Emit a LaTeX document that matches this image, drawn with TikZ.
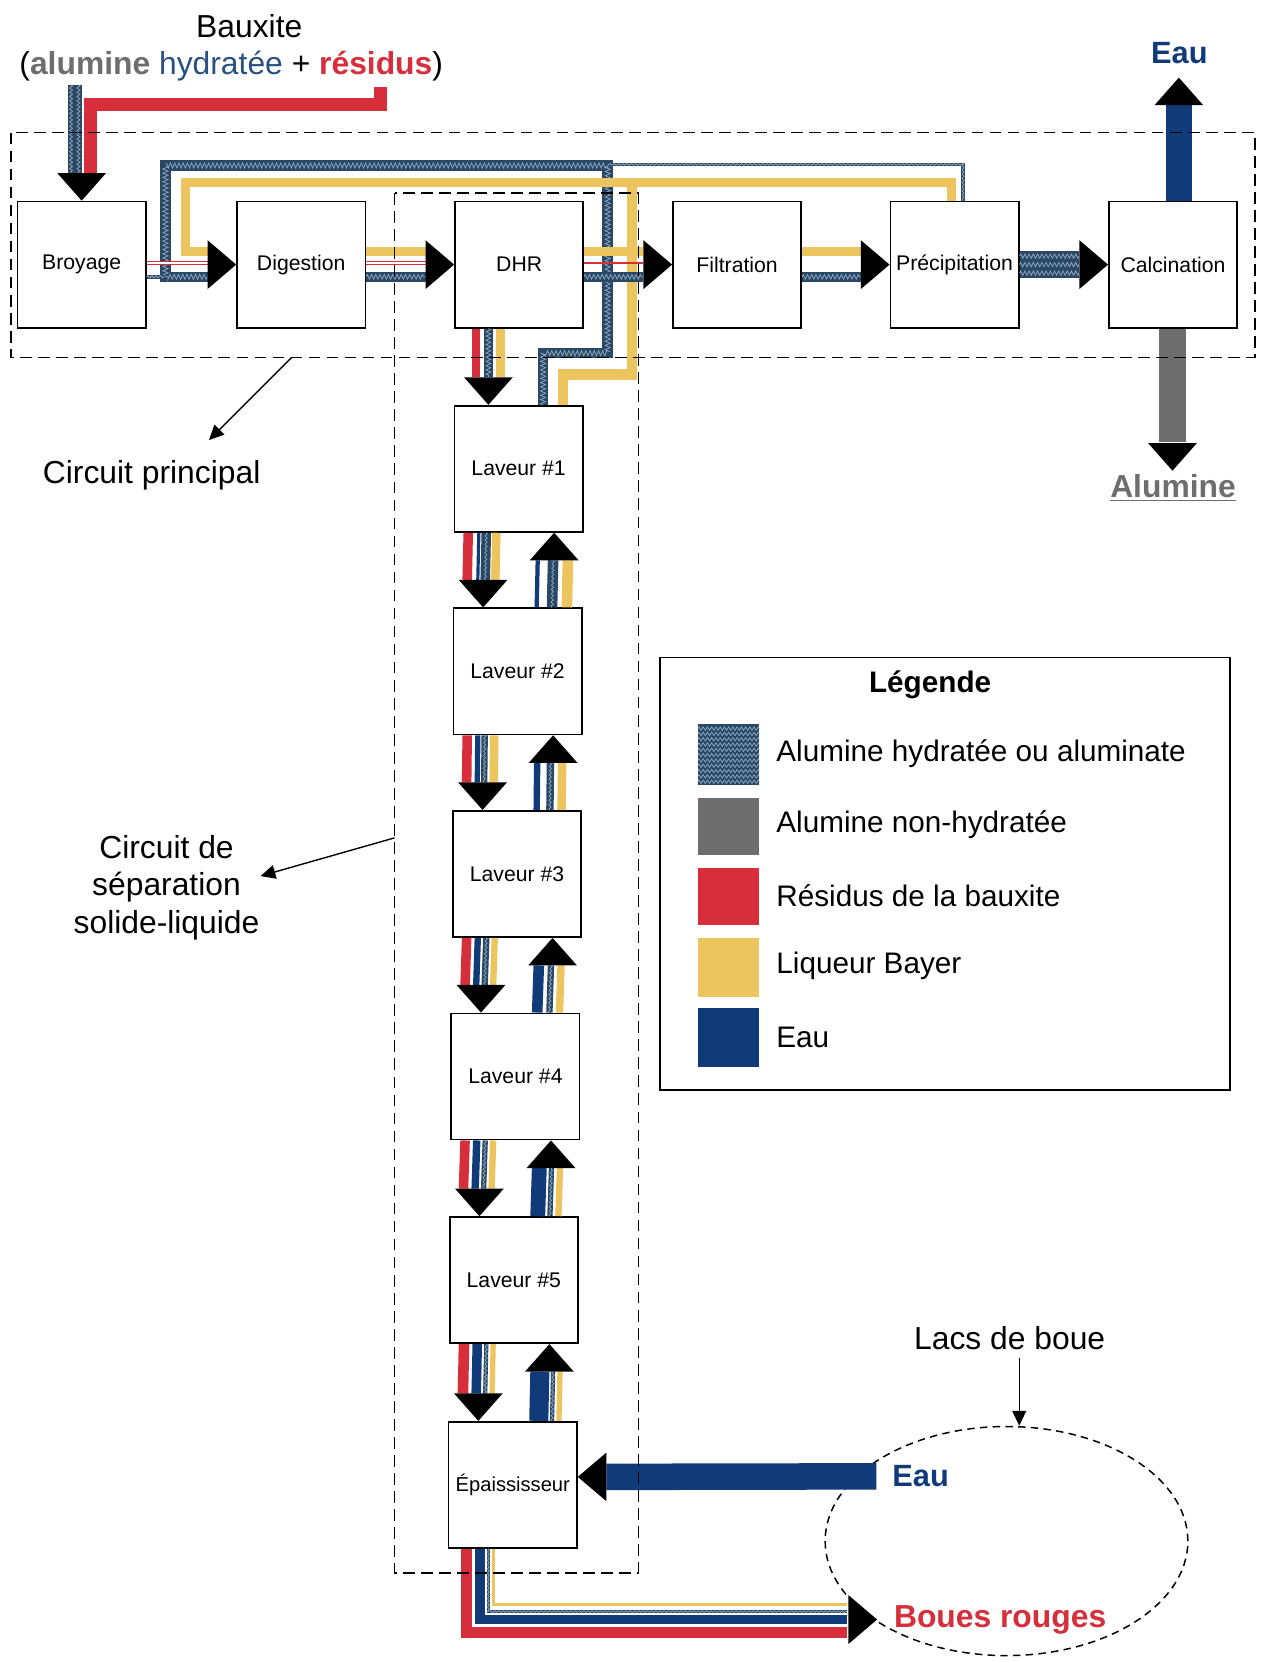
\documentclass[tikz,border=0pt]{standalone}
\usepackage{fontspec}
\setmainfont{Liberation Sans}
\usetikzlibrary{calc,positioning,shapes.geometric,decorations.pathmorphing,arrows.meta}

\definecolor{resid}{RGB}{214,46,58}
\definecolor{liqueur}{RGB}{236,197,94}
\definecolor{eau}{RGB}{16,58,120}
\definecolor{anhydre}{RGB}{110,110,110}
\definecolor{hydrate}{RGB}{40,80,130}
\definecolor{alumbase}{RGB}{42,72,102}
\definecolor{alumlight}{RGB}{140,168,192}

\newcommand\alumflow[3]{\draw[alum=#1] #3; \draw[alumtex=#2] #3;}
\newcommand\tipdown[1]{\fill #1 -- ++(-23,-26) -- ++(46,0) -- cycle;}
\newcommand\tipup[1]{\fill #1 -- ++(-23,26) -- ++(46,0) -- cycle;}
\newcommand\tipright[1]{\fill #1 -- ++(-27,-23) -- ++(0,46) -- cycle;}
\newcommand\tipleft[1]{\fill #1 -- ++(27,-23) -- ++(0,46) -- cycle;}

\tikzset{
  stage/.style={draw, fill=white, line width=0.8pt, minimum width=60.5pt, minimum height=59.5pt, inner sep=0pt, font=\fontsize{10pt}{12pt}\selectfont},
  note/.style={font=\fontsize{15pt}{17.5pt}\selectfont, align=center},
  zone/.style={line width=0.85pt, dash pattern=on 5.5pt off 3pt},
  pointer/.style={line width=0.65pt, -{Triangle[length=7pt,width=6.5pt]}},
  ylw/.style={draw=liqueur, line width=#1},
  rd/.style={draw=resid, line width=#1},
  bl/.style={draw=eau, line width=#1},
  alum/.style={draw=alumbase, line width=#1},
  alumtex/.style={draw=alumlight, line width=0.35pt, decorate, decoration={zigzag, segment length=2pt, amplitude=#1}},
  redpair/.style={draw=resid, double=white, double distance=0.9pt, line width=0.7pt},
}

\begin{document}
\begin{tikzpicture}[x=0.5pt,y=-0.5pt]
\useasboundingbox (0,0) rectangle (1192,1568);

% titre
\node[note] (bauxite) at (235,25) {Bauxite};
\node[note] (compo) at (218,62) {(\textbf{\color{anhydre}alumine} {\color{hydrate}hydratée} + \textbf{\color{resid}résidus})};

% circuit principal
\node[stage] (broyage) at (77,249.5) {Broyage};
\node[stage] (digestion) at (284,249.5) {Digestion};
\node[stage] (dhr) at (489.5,249.5) {DHR};
\node[stage] (filtration) at (695,249.5) {Filtration};
\node[stage] (precip) at (900,249.5) {Précipitation};
\node[stage] (calcin) at (1106,249.5) {Calcination};

% laveurs
\node[stage] (lav1) at (489,442) {Laveur \#1};
\node[stage] (lav2) at (488,633) {Laveur \#2};
\node[stage] (lav3) at (487.5,824) {Laveur \#3};
\node[stage] (lav4) at (486,1015) {Laveur \#4};
\node[stage] (lav5) at (484.5,1207) {Laveur \#5};
\node[stage, font=\fontsize{9.5pt}{11pt}\selectfont] (epaiss) at (483.5,1400) {Épaississeur};

% entree bauxite
\coordinate (entreeA) at (70.5,80);
\coordinate (entreeR) at (358.5,82);
\draw[rd=6pt] (entreeR) -- (358.5,98.5) -- (85,98.5) -- ($(broyage.north)+(8,-26)$);
\draw[alum=6.5pt] (entreeA) -- ($(broyage.north)+(-6.5,-26)$);
\foreach \dx in {-3.5,3.5}
  \draw[alumtex=0.7pt] ($(entreeA)+(\dx,0)$) -- ($(broyage.north)+(-6.5,-26)+(\dx,0)$);
\tipdown{(broyage.north)}

% retours vers la digestion
\alumflow{5pt}{1.2pt}{($(lav1.north)+(23,0)$) -- (512,333) -- (573,333) -- (573,156) -- (156,156) -- (156,261) -- ($(digestion.west)+(-27,11.5)$)}
\alumflow{1.5pt}{0.4pt}{($(precip.north)+(8,0)$) -- (908,155) -- (573,155)}
\draw[ylw=4.5pt] ($(precip.north)+(-3,0)$) -- (897,172) -- (175,172) -- (175,237) -- ($(digestion.west)+(-27,-12.5)$);
\draw[ylw=5pt] ($(lav1.north)+(42,0)$) -- (531,353) -- (596,353) -- (596,172);

% broyage -> digestion
\draw[redpair] ($(broyage.east)+(0,-1.5)$) -- ($(digestion.west)+(-27,-1.5)$);
\alumflow{2pt}{0.5pt}{($(broyage.east)+(0,11.5)$) -- ($(digestion.west)+(-67.5,11.5)$)}
\tipright{(digestion.west)}

% digestion -> DHR
\draw[ylw=4.5pt] ($(digestion.east)+(0,-12.5)$) -- ($(dhr.west)+(-27,-12.5)$);
\draw[redpair] ($(digestion.east)+(0,-1.5)$) -- ($(dhr.west)+(-27,-1.5)$);
\alumflow{4.5pt}{1.1pt}{($(digestion.east)+(0,11.5)$) -- ($(dhr.west)+(-27,11.5)$)}
\tipright{(dhr.west)}

% DHR -> filtration
\draw[ylw=4.5pt] ($(dhr.east)+(0,-12.5)$) -- ($(filtration.west)+(-27,-12.5)$);
\draw[rd=0.8pt] ($(dhr.east)+(0,-1.5)$) -- ($(filtration.west)+(-27,-1.5)$);
\alumflow{4.5pt}{1.1pt}{($(dhr.east)+(0,11.5)$) -- ($(filtration.west)+(-27,11.5)$)}
\tipright{(filtration.west)}

% filtration -> precipitation
\draw[ylw=4.5pt] ($(filtration.east)+(0,-12.5)$) -- ($(precip.west)+(-27,-12.5)$);
\alumflow{4.5pt}{1.1pt}{($(filtration.east)+(0,11.5)$) -- ($(precip.west)+(-27,11.5)$)}
\tipright{(precip.west)}

% precipitation -> calcination
\draw[alum=13pt] (precip.east) -- ($(calcin.west)+(-27,0)$);
\foreach \dy in {-8,0,8}
  \draw[alumtex=1pt] ($(precip.east)+(0,\dy)$) -- ($(calcin.west)+(-27,\dy)$);
\tipright{(calcin.west)}

% sorties calcination
\node[note, font=\bfseries\fontsize{14.5pt}{17pt}\selectfont, text=eau] (eauhaut) at (1112,50) {Eau};
\draw[bl=12.5pt] ($(calcin.north)+(5.5,0)$) -- ($(calcin.north)+(5.5,-90)$);
\tipup{($(calcin.north)+(5.5,-116)$)}
\node[note, font=\bfseries\fontsize{15pt}{17pt}\selectfont, text=anhydre] (alumine) at (1106,460) {\underline{Alumine}};
\draw[draw=anhydre, line width=12.5pt] ($(calcin.south)+(-0.5,0)$) -- ($(calcin.south)+(-0.5,107)$);
\tipdown{($(calcin.south)+(-0.5,134)$)}

% DHR -> laveur 1
\draw[rd=4pt] ($(dhr.south)+(-40.5,0)$) -- ($(lav1.north)+(-40,-26)$);
\alumflow{4.5pt}{1.1pt}{($(dhr.south)+(-29,0)$) -- ($(lav1.north)+(-28.5,-26)$)}
\draw[ylw=4pt] ($(dhr.south)+(-17.5,0)$) -- ($(lav1.north)+(-17,-26)$);
\tipdown{($(lav1.north)+(-28.5,0)$)}

% boues vers le bas
\foreach \hi/\lo/\rc/\rw/\bc/\bw/\hc/\hw/\yc/\yw in {
    lav1/lav2/-47.5/4.5pt/-37.5/1.5pt/-30.5/4.5pt/-21/4pt,
    lav2/lav3/-47.5/4.5pt/-37.5/2.5pt/-31/3pt/-22/4pt,
    lav3/lav4/-47.5/4.5pt/-37/3pt/-29/3pt/-21/3pt,
    lav4/lav5/-47.5/4.5pt/-36.5/3.5pt/-28.5/2.5pt/-21/3pt,
    lav5/epaiss/-47/5pt/-34.5/4.5pt/-26/2pt/-19.5/2.5pt}
{
  \draw[rd=\rw] ($(\hi.south)+(\rc,0)$) -- ($(\lo.north)+(\rc,-26)$);
  \draw[bl=\bw] ($(\hi.south)+(\bc,0)$) -- ($(\lo.north)+(\bc,-26)$);
  \alumflow{\hw}{0.5pt}{($(\hi.south)+(\hc,0)$) -- ($(\lo.north)+(\hc,-26)$)}
  \draw[ylw=\yw] ($(\hi.south)+(\yc,0)$) -- ($(\lo.north)+(\yc,-26)$);
  \tipdown{($(\lo.north)+(-32.5,0)$)}
}

% liqueur vers le haut
\foreach \hi/\lo/\bc/\bw/\hc/\hw/\yc/\yw in {
    lav1/lav2/18/2pt/32.5/5pt/46.5/5pt,
    lav2/lav3/18.5/3pt/31/3.5pt/42/4pt,
    lav3/lav4/20.5/5pt/32/3pt/41.5/3.5pt,
    lav4/lav5/22.5/7pt/34/2.5pt/42/3pt,
    lav5/epaiss/24.5/9pt/37/2pt/43.5/2.5pt}
{
  \draw[bl=\bw] ($(\lo.north)+(\bc,0)$) -- ($(\hi.south)+(\bc,26)$);
  \alumflow{\hw}{0.5pt}{($(\lo.north)+(\hc,0)$) -- ($(\hi.south)+(\hc,26)$)}
  \draw[ylw=\yw] ($(\lo.north)+(\yc,0)$) -- ($(\hi.south)+(\yc,26)$);
  \tipup{($(\hi.south)+(33.5,0)$)}
}

% lacs de boue
\node[draw, ellipse, line width=0.7pt, dash pattern=on 3.5pt off 2.5pt, minimum width=171pt, minimum height=108pt] (lacs) at (949,1453) {};
\node[note] (lacsdeboue) at (952,1262) {Lacs de boue};
\draw[pointer] ($(lacsdeboue.south)+(9,0)$) -- ($(lacs.north)+(12,0)$);
\node[note, font=\bfseries\fontsize{15pt}{17pt}\selectfont, text=resid] (boues) at (943,1527) {Boues rouges};
\node[note, font=\bfseries\fontsize{14.5pt}{17pt}\selectfont, text=eau] (eaubas) at (868,1392) {Eau};

% sortie epaississeur
\coordinate (lac) at (827,1527);
\draw[rd=5pt] ($(epaiss.south)+(-43.5,0)$) |- ($(lac)+(-28,12.5)$);
\draw[bl=4.5pt] ($(epaiss.south)+(-31,0)$) |- ($(lac)+(-28,0)$);
\alumflow{1.5pt}{0.4pt}{($(epaiss.south)+(-23,0)$) |- ($(lac)+(-28,-7.5)$)}
\draw[ylw=1.5pt] ($(epaiss.south)+(-18,0)$) |- ($(lac)+(-28,-14)$);
\tipright{(lac)}

% eau vers epaississeur
\draw[bl=12.5pt] ($(eaubas.west)+(-8,0)$) -- ($(epaiss.east)+(27,-7.5)$);
\tipleft{($(epaiss.east)+(0,-7.5)$)}

% circuits
\draw[zone] (10,125) rectangle (1183,337);
\draw[zone] (372,182) rectangle (602,1483);
\node[note] (principal) at (143,448) {Circuit principal};
\draw[pointer] (275,337) -- ($(principal.north)+(54,-12)$);
\node[note] (separation) at (157,837) {Circuit de\\séparation\\solide-liquide};
\draw[pointer] (372,790) -- ($(separation.east)+(-6,-11)$);

% legende
\draw[line width=0.8pt] (622,620) rectangle (1160,1028);
\node[font=\bfseries\fontsize{14pt}{16pt}\selectfont] (legende) at (877,646) {Légende};
\fill[alumbase] (658,683) rectangle (716,740);
\foreach \yy in {687,692,...,737}
  \draw[alumtex=0.8pt] (658,\yy) -- (716,\yy);
\fill[anhydre] (658,752) rectangle (716,806);
\fill[resid] (658,818) rectangle (716,872);
\fill[liqueur] (658,884) rectangle (716,940);
\fill[eau] (658,950) rectangle (716,1006);
\node[anchor=west, font=\fontsize{14pt}{16pt}\selectfont] (leg1) at (725,711) {Alumine hydratée ou aluminate};
\node[anchor=west, font=\fontsize{14pt}{16pt}\selectfont] (leg2) at (725,778) {Alumine non-hydratée};
\node[anchor=west, font=\fontsize{14pt}{16pt}\selectfont] (leg3) at (725,845) {Résidus de la bauxite};
\node[anchor=west, font=\fontsize{14pt}{16pt}\selectfont] (leg4) at (725,911) {Liqueur Bayer};
\node[anchor=west, font=\fontsize{14pt}{16pt}\selectfont] (leg5) at (725,978) {Eau};
\end{tikzpicture}
\end{document}
